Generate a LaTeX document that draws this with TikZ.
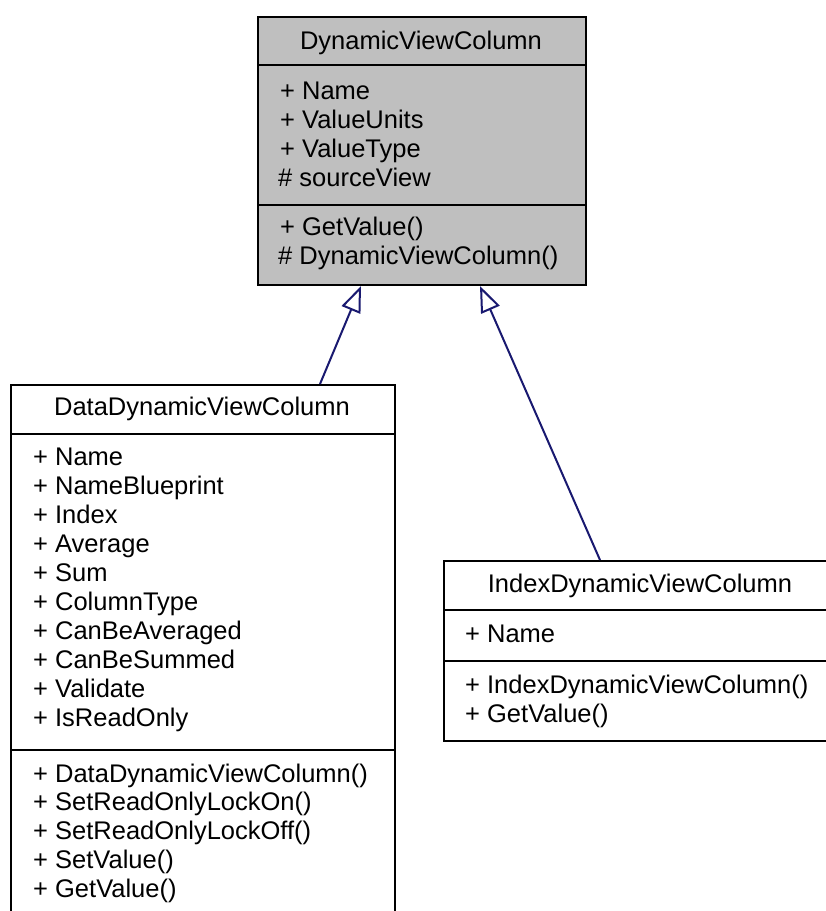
\documentclass[tikz,border=0pt]{standalone}
\usepackage{fontspec}
\setmainfont{Liberation Sans}
\usetikzlibrary{arrows.meta}
\definecolor{edgeblue}{RGB}{25,25,112}
\definecolor{boxgray}{RGB}{191,191,191}
\tikzset{
  txt/.style={anchor=base west, inner sep=0pt, font=\fontsize{25.5}{29}\selectfont},
  hdr/.style={anchor=base, inner sep=0pt, font=\fontsize{25.5}{29}\selectfont},
  umlbox/.style={draw=black, line width=2pt, anchor=north west, inner sep=0pt},
  sepline/.style={draw=black, line width=2pt},
  inherit/.style={draw=edgeblue, line width=2pt, line join=miter,
    -{Triangle[open, length=26pt, width=20pt]}}
}
\begin{document}
\begin{tikzpicture}[x=1pt,y=-1pt]
\useasboundingbox (0,0) rectangle (826,911);
\fill[white] (0,0) rectangle (826,911);
\clip (0,0) rectangle (826,911);
% boxes
\node[umlbox, fill=boxgray, minimum width=328pt, minimum height=268pt] (top) at (257,16) {};
\node[umlbox, fill=white, minimum width=384pt, minimum height=540pt] (data) at (10,384) {};
\node[umlbox, fill=white, minimum width=394pt, minimum height=180pt] (idx) at (443,560) {};
% dividers
\draw[sepline] (top.west |- 0,65) -- (top.east |- 0,65);
\draw[sepline] (top.west |- 0,205) -- (top.east |- 0,205);
\draw[sepline] (data.west |- 0,434) -- (data.east |- 0,434);
\draw[sepline] (data.west |- 0,750) -- (data.east |- 0,750);
\draw[sepline] (idx.west |- 0,610) -- (idx.east |- 0,610);
\draw[sepline] (idx.west |- 0,661) -- (idx.east |- 0,661);
% top texts
\node[hdr] (topH) at (421,49) {DynamicViewColumn};
\node[txt] (t1) at (280,99) {+ Name};
\node[txt] (t2) at (280,128) {+ ValueUnits};
\node[txt] (t3) at (280,157) {+ ValueType};
\node[txt] (t4) at (278,186) {\# sourceView};
\node[txt] (t5) at (280,235) {+ GetValue()};
\node[txt] (t6) at (278,264) {\# DynamicViewColumn()};
% data texts
\node[hdr] (dataH) at (202,415) {DataDynamicViewColumn};
\node[txt] (d1) at (33,465) {+ Name};
\node[txt] (d2) at (33,494) {+ NameBlueprint};
\node[txt] (d3) at (33,523) {+ Index};
\node[txt] (d4) at (33,552) {+ Average};
\node[txt] (d5) at (33,581) {+ Sum};
\node[txt] (d6) at (33,610) {+ ColumnType};
\node[txt] (d7) at (33,639) {+ CanBeAveraged};
\node[txt] (d8) at (33,668) {+ CanBeSummed};
\node[txt] (d9) at (33,697) {+ Validate};
\node[txt] (d10) at (33,726) {+ IsReadOnly};
\node[txt] (m1) at (33,782) {+ DataDynamicViewColumn()};
\node[txt] (m2) at (33,810) {+ SetReadOnlyLockOn()};
\node[txt] (m3) at (33,839) {+ SetReadOnlyLockOff()};
\node[txt] (m4) at (33,868) {+ SetValue()};
\node[txt] (m5) at (33,897) {+ GetValue()};
% index texts
\node[hdr] (idxH) at (640,592) {IndexDynamicViewColumn};
\node[txt] (i1) at (465,642) {+ Name};
\node[txt] (i2) at (465,693) {+ IndexDynamicViewColumn()};
\node[txt] (i3) at (465,722) {+ GetValue()};
% inheritance
\draw[inherit] (320,0 |- data.north) -- (361,0 |- top.south);
\draw[inherit] (600,0 |- idx.north) -- (480,0 |- top.south);
\end{tikzpicture}
\end{document}
